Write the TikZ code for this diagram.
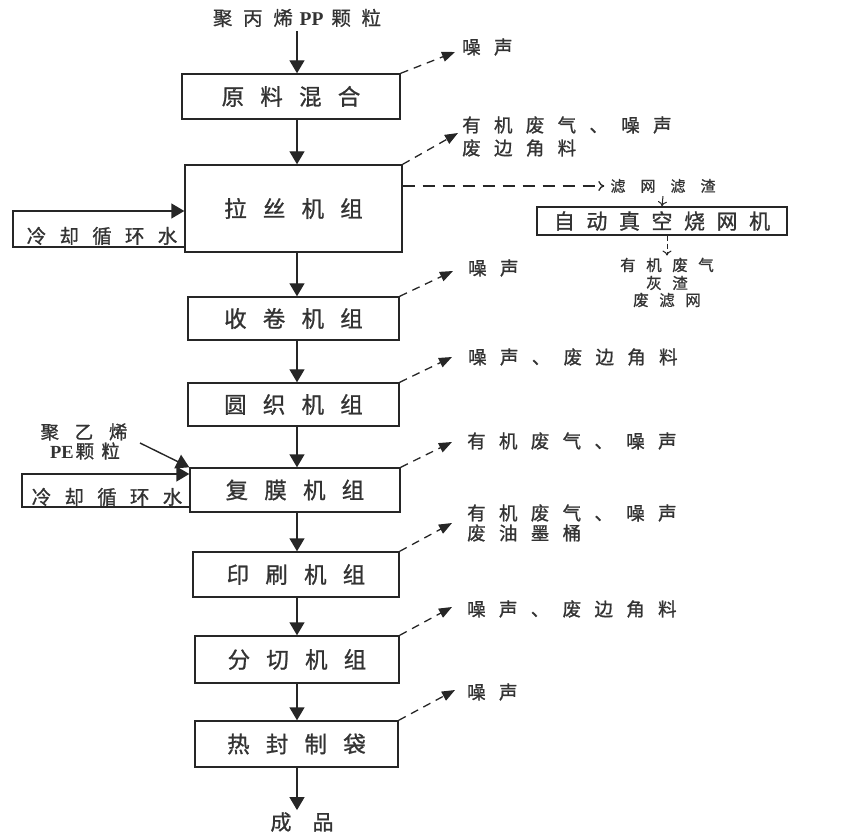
\documentclass[tikz,border=0pt]{standalone}
\usepackage{fontspec}
\setmainfont{Noto Sans CJK SC}
\newfontfamily\cjk[FakeBold=1.0]{Noto Sans CJK SC}
\newfontfamily\lat{Liberation Serif}
\usetikzlibrary{arrows.meta,calc}
\newcommand{\lsfont}[2]{\cjk\fontsize{#1}{#1}\selectfont\addfontfeature{LetterSpace=#2}}
\begin{document}
\begin{tikzpicture}[x=1pt,y=-1pt,
  proc/.style={draw=black!85, line width=1.4pt, inner sep=0pt, text=black!80,
    font=\lsfont{22.5}{72}},
  lbl/.style={anchor=west, inner sep=0pt, text=black!80,
    font=\lsfont{18.5}{72}},
  side/.style={inner sep=0pt, text=black!80,
    font=\lsfont{19.5}{68}},
  small/.style={inner sep=0pt, text=black!80,
    font=\lsfont{15.5}{68}},
  main/.style={draw=black!85, line width=1.4pt, -{Triangle[length=13pt,width=15pt]}},
  emit/.style={draw=black!85, line width=1.3pt, dash pattern=on 8pt off 6pt,
    -{Triangle[length=13pt,width=10pt]}},
  thinarr/.style={draw=black!85, line width=1pt, -{To[length=5pt,width=9pt]}}
]
\path[use as bounding box] (0,0) rectangle (841,834);

\coordinate (mx) at (297,0);

% main boxes
\node[proc, minimum width=218pt, minimum height=45pt] (b1) at (291,96.5) {原料混合};
\node[proc, minimum width=217pt, minimum height=87pt] (b2) at (293.5,208.5) {拉丝机组};
\node[proc, minimum width=211pt, minimum height=43pt] (b3) at (293.5,318.5) {收卷机组};
\node[proc, minimum width=211pt, minimum height=43pt] (b4) at (293.5,404.5) {圆织机组};
\node[proc, minimum width=210pt, minimum height=44pt] (b5) at (295,490) {复膜机组};
\node[proc, minimum width=206pt, minimum height=45pt] (b6) at (296,574.5) {印刷机组};
\node[proc, minimum width=204pt, minimum height=47pt] (b7) at (297,659.5) {分切机组};
\node[proc, minimum width=203pt, minimum height=46pt] (b8) at (296.5,744) {热封制袋};

% input / output
\node[inner sep=0pt, text=black!80, font=\lsfont{19.5}{55}] (pp) at (297,18)
  {聚丙烯\kern0.35em{\lat\bfseries\fontsize{19.5}{19.5}\selectfont PP}\kern0.4em颗粒};
\node[inner sep=2pt, text=black!80, font=\lsfont{21}{100}] (cp) at (302,822) {成品};

\draw[main] (pp.south -| mx) ++(0,4) -- (b1.north -| mx);
\draw[main] (b1.south -| mx) -- (b2.north -| mx);
\draw[main] (b2.south -| mx) -- (b3.north -| mx);
\draw[main] (b3.south -| mx) -- (b4.north -| mx);
\draw[main] (b4.south -| mx) -- (b5.north -| mx);
\draw[main] (b5.south -| mx) -- (b6.north -| mx);
\draw[main] (b6.south -| mx) -- (b7.north -| mx);
\draw[main] (b7.south -| mx) -- (b8.north -| mx);
\draw[main] (b8.south -| mx) -- (cp.north -| mx);

% cooling water loops
\coordinate (c1t) at (13,211);
\coordinate (c1b) at (13,247);
\draw[main] (b2.west |- c1b) -- (c1b) -- (c1t) -- (b2.west |- c1t);
\node[side] (w1) at (102,236) {冷却循环水};

\coordinate (c2t) at (22,474);
\coordinate (c2b) at (22,507);
\draw[main] (b5.west |- c2b) -- (c2b) -- (c2t) -- (b5.west |- c2t);
\node[side] (w2) at (107,497) {冷却循环水};

% PE input
\node[inner sep=0pt, text=black!80, font=\lsfont{18.5}{85}] (pe1) at (84,432) {聚乙烯};
\node[inner sep=0pt, text=black!80, font=\lsfont{18.5}{40}] (pe2) at (85,451)
  {{\lat\bfseries\fontsize{18.5}{18.5}\selectfont PE}\kern0.1em颗粒};
\coordinate (pes) at (140,443);
\draw[main] (pes) -- (b5.north west);

% emissions
\coordinate (t1) at (455,52);
\coordinate (t2) at (458,133);
\coordinate (t3) at (453,271);
\coordinate (t4) at (452,357);
\coordinate (t5) at (452,442);
\coordinate (t6) at (452,523);
\coordinate (t7) at (452,607);
\coordinate (t8) at (455,690);
\draw[emit] (b1.north east) -- (t1);
\draw[emit] (b2.north east) -- (t2);
\draw[emit] (b3.north east) -- (t3);
\draw[emit] (b4.north east) -- (t4);
\draw[emit] (b5.north east) -- (t5);
\draw[emit] (b6.north east) -- (t6);
\draw[emit] (b7.north east) -- (t7);
\draw[emit] (b8.north east) -- (t8);

\node[lbl] (l1) at (462,47) {噪声};
\node[lbl] (l2a) at (462,125) {有机废气、噪声};
\node[lbl] (l2b) at (462,148) {废边角料};
\node[lbl] (l3) at (468,268) {噪声};
\node[lbl] (l4) at (468,357) {噪声、废边角料};
\node[lbl] (l5) at (467,441) {有机废气、噪声};
\node[lbl] (l6a) at (467,513) {有机废气、噪声};
\node[lbl] (l6b) at (467,533) {废油墨桶};
\node[lbl] (l7) at (467,609) {噪声、废边角料};
\node[lbl] (l8) at (467,692) {噪声};

% filter branch
\coordinate (hy) at (0,186);
\node[small, font=\lsfont{15}{100}] (fw) at (663,186) {滤网滤渣};
\draw[draw=black!85, line width=1.3pt, dash pattern=on 12pt off 8pt, -{To[length=6pt,width=10pt]}]
  (b2.east |- hy) -- ($(fw.west)+(-6,0)$);
\node[draw=black!85, line width=1.3pt, inner sep=0pt, minimum width=250pt, minimum height=28pt,
  text=black!80, font=\lsfont{21}{55}] (ab) at (662,221) {自动真空烧网机};
\draw[thinarr] ($(fw.south)+(0,3)$) -- (ab.north);
\node[small] (o1) at (667,265) {有机废气};
\node[small] (o2) at (667,283) {灰渣};
\node[small] (o3) at (667,300) {废滤网};
\draw[thinarr, dash pattern=on 5pt off 3pt] (ab.south -| o1) -- ($(o1.north)+(0,-2)$);
\end{tikzpicture}
\end{document}
